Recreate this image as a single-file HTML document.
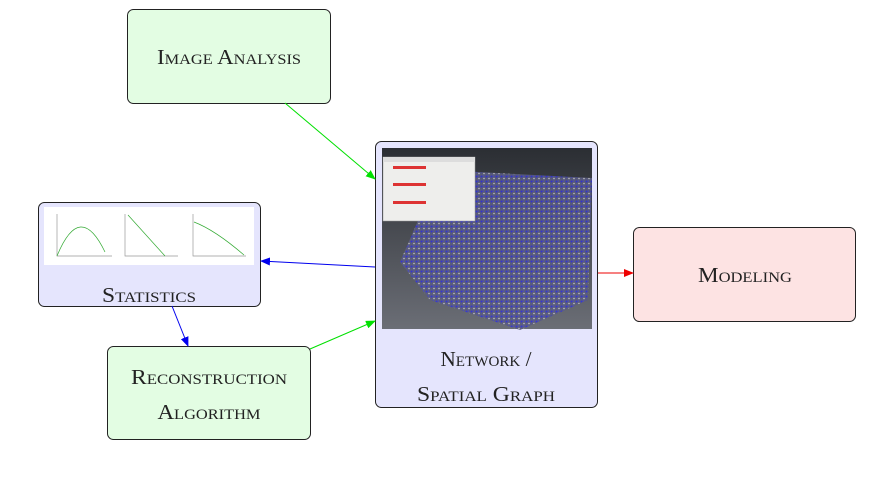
<!DOCTYPE html>
<html><head><style>
body{margin:0;background:#fff}
svg text{font-family:"Liberation Serif",serif;font-variant:small-caps;font-size:21px;fill:#222;text-anchor:middle}
</style></head><body>
<svg width="891" height="476" viewBox="0 0 891 476" xmlns="http://www.w3.org/2000/svg">
<defs>
<linearGradient id="g" x1="0" y1="0" x2="0" y2="1"><stop offset="0" stop-color="#2b2e33"/><stop offset="1" stop-color="#6b6e76"/></linearGradient>
<pattern id="dots" width="5" height="5" patternUnits="userSpaceOnUse"><rect width="5" height="5" fill="#5a5c80"/><circle cx="1.5" cy="1.5" r="1" fill="#3030e0"/><circle cx="4" cy="3.5" r="0.8" fill="#ccc"/><circle cx="3.5" cy="1" r="0.6" fill="#4444dd"/></pattern>
<marker id="ag" markerWidth="10" markerHeight="8" refX="9" refY="4" orient="auto" markerUnits="userSpaceOnUse"><path d="M0,0L10,4L0,8z" fill="#00e000"/></marker>
<marker id="ab" markerWidth="10" markerHeight="8" refX="9" refY="4" orient="auto" markerUnits="userSpaceOnUse"><path d="M0,0L10,4L0,8z" fill="#0000ee"/></marker>
<marker id="ar" markerWidth="10" markerHeight="8" refX="9" refY="4" orient="auto" markerUnits="userSpaceOnUse"><path d="M0,0L10,4L0,8z" fill="#ee0000"/></marker>
</defs>
<rect x="127.5" y="9.5" width="203" height="94" rx="6" fill="#e3fde3" stroke="#222"/>
<text x="229" y="64" textLength="144" lengthAdjust="spacingAndGlyphs">Image Analysis</text>
<rect x="38.5" y="202.5" width="222" height="104" rx="6" fill="#e5e5fd" stroke="#222"/>
<rect x="44" y="207" width="210" height="58" fill="#fff"/>
<g stroke="#999" fill="none" stroke-width="0.7">
<path d="M57,214V256H112"/><path d="M57,256Q80,200 105,252" stroke="#3a3"/>
<path d="M125,214V256H178"/><path d="M128,215L165,256" stroke="#3a3"/>
<path d="M193,214V256H246"/><path d="M194,222Q215,230 244,255" stroke="#3a3"/>
</g>
<text x="149" y="302" textLength="94" lengthAdjust="spacingAndGlyphs">Statistics</text>
<rect x="107.5" y="346.5" width="203" height="93" rx="6" fill="#e3fde3" stroke="#222"/>
<text x="209" y="384" textLength="156" lengthAdjust="spacingAndGlyphs">Reconstruction</text>
<text x="209" y="419" textLength="103" lengthAdjust="spacingAndGlyphs">Algorithm</text>
<rect x="375.5" y="141.5" width="222" height="266" rx="6" fill="#e5e5fd" stroke="#222"/>
<rect x="382" y="148" width="210" height="181" fill="url(#g)"/>
<path d="M440,170L592,178L588,300L520,330L430,300L400,262Z" fill="url(#dots)" opacity="0.9"/>
<rect x="383" y="157" width="92" height="64" fill="#eeeeec" stroke="#999" stroke-width="0.5"/>
<rect x="383" y="157" width="92" height="5" fill="#ddd"/>
<rect x="393" y="166" width="33" height="3" fill="#d33"/>
<rect x="393" y="183" width="33" height="3" fill="#d33"/>
<rect x="393" y="201" width="33" height="3" fill="#d33"/>
<text x="486" y="366" textLength="91" lengthAdjust="spacingAndGlyphs">Network /</text>
<text x="486" y="401" textLength="138" lengthAdjust="spacingAndGlyphs">Spatial Graph</text>
<rect x="633.5" y="227.5" width="222" height="94" rx="6" fill="#fde3e3" stroke="#222"/>
<text x="745" y="282" textLength="94" lengthAdjust="spacingAndGlyphs">Modeling</text>
<line x1="285" y1="103" x2="375" y2="179" stroke="#00e000" marker-end="url(#ag)"/>
<line x1="375" y1="267" x2="261" y2="261" stroke="#0000ee" marker-end="url(#ab)"/>
<line x1="172" y1="306" x2="188" y2="346" stroke="#0000ee" marker-end="url(#ab)"/>
<line x1="310" y1="349" x2="375" y2="321" stroke="#00e000" marker-end="url(#ag)"/>
<line x1="598" y1="273" x2="633" y2="273" stroke="#ee0000" marker-end="url(#ar)"/>
</svg>
</body></html>
